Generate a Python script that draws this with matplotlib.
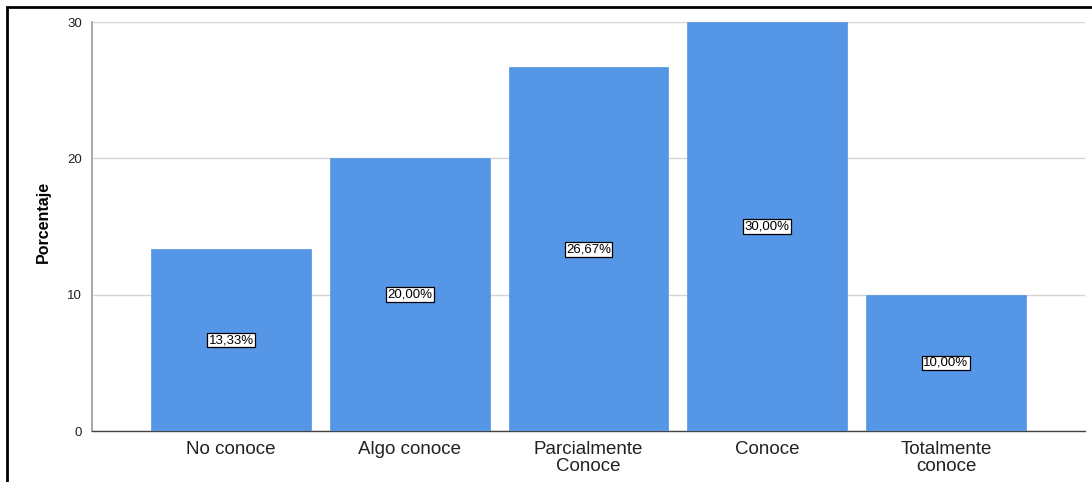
import matplotlib
matplotlib.use("Agg")
import matplotlib.pyplot as plt
from matplotlib.patches import Rectangle

plt.rcParams["font.family"] = ["Liberation Sans", "DejaVu Sans"]

categorias = ["No conoce", "Algo conoce", "Parcialmente\nConoce", "Conoce", "Totalmente\nconoce"]
porcentajes = [13.33, 20.00, 26.67, 30.00, 10.00]
etiquetas = ["13,33%", "20,00%", "26,67%", "30,00%", "10,00%"]
yticks = [0, 10, 20, 30]

fig = plt.figure(figsize=(10.92, 4.82), dpi=100)
W, H = 1092, 482
ax = fig.add_axes([92 / W, 1 - 431 / H, (1085 - 92) / W, (431 - 22) / H])

pos = list(range(len(categorias)))
ax.bar(pos, porcentajes, width=0.895, color="#5596e6", edgecolor="#5596e6",
       linewidth=0.5, zorder=3)

for x, v, t in zip(pos, porcentajes, etiquetas):
    ax.text(x, v / 2, t, ha="center", va="center", fontsize=9.5, color="black",
            zorder=4,
            bbox=dict(boxstyle="square,pad=0.1", facecolor="white",
                      edgecolor="black", linewidth=0.9))

ax.set_xlim(-0.778, 4.778)
ax.set_ylim(0, 30)
ax.set_yticks(yticks)
ax.set_yticklabels([str(t) for t in yticks], fontsize=9.5, color="#222222")
ax.set_xticks(pos)
ax.set_xticklabels(categorias, fontsize=13.5, color="#222222", linespacing=1.0)
ax.tick_params(axis="both", length=0)
ax.tick_params(axis="x", pad=7)
ax.tick_params(axis="y", pad=7)

ax.grid(axis="y", color="#d4d4d4", linewidth=1, zorder=0)
for s in ["top", "right"]:
    ax.spines[s].set_visible(False)
ax.spines["left"].set_color("#9a9a9a")
ax.spines["left"].set_linewidth(1.2)
ax.spines["bottom"].set_color("#444444")
ax.spines["bottom"].set_linewidth(1)

ax.set_ylabel("Porcentaje", fontsize=11.5, fontweight="bold")
ax.yaxis.set_label_coords(-0.041, 0.51)

# outer frame around the chart
fig.patches.append(Rectangle((6.5 / W, -0.05), 1.1, 1 - 6.5 / H + 0.05,
                             transform=fig.transFigure, fill=False,
                             edgecolor="black", linewidth=2))

fig.savefig("out.png", dpi=100)
